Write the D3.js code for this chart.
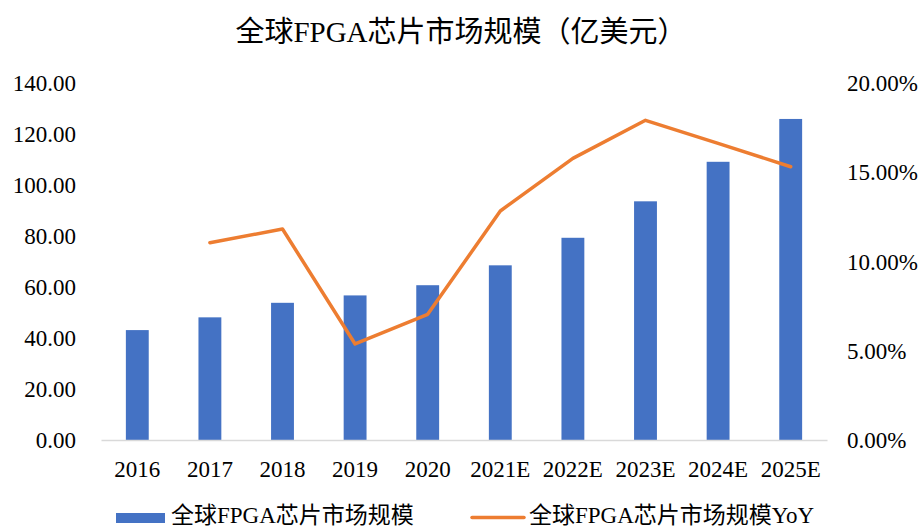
<!DOCTYPE html>
<html>
<head>
<meta charset="utf-8">
<script src="https://cdn.jsdelivr.net/npm/d3@7/dist/d3.min.js"></script>
<style>
  html, body { margin: 0; padding: 0; background: #fff; }
  svg text { font-family: "Liberation Serif", "Times New Roman", "Noto Sans CJK SC", serif; fill: #000; }
</style>
</head>
<body>
<svg id="chart" width="921" height="529"></svg>
<script>
const title = "全球FPGA芯片市场规模（亿美元）";
const categories = ["2016", "2017", "2018", "2019", "2020", "2021E", "2022E", "2023E", "2024E", "2025E"];
const marketSize = [43.1, 48.1, 53.8, 56.7, 60.7, 68.5, 79.3, 93.6, 109.1, 125.9];
const yoy = [null, 11.05, 11.82, 5.38, 7.04, 12.83, 15.78, 17.91, 16.62, 15.31];
const leftTicks = [0, 20, 40, 60, 80, 100, 120, 140];
const rightTicks = [0, 5, 10, 15, 20];
const seriesNames = ["全球FPGA芯片市场规模", "全球FPGA芯片市场规模YoY"];

const svg = d3.select("#chart");
const margin = { left: 101, right: 827, top: 83, bottom: 440 };

const x = d3.scaleBand().domain(categories).range([margin.left, margin.right]).paddingInner(0.685).paddingOuter(0.3425);
const yL = d3.scaleLinear().domain([0, 140]).range([margin.bottom, margin.top]);
const yR = d3.scaleLinear().domain([0, 20]).range([margin.bottom, margin.top]);

// title
svg.append("text").attr("x", 461).attr("y", 42).attr("text-anchor", "middle")
  .style("font-size", "29px").text(title);

// bars
svg.append("g").selectAll("rect").data(categories).join("rect")
  .attr("x", d => x(d)).attr("width", x.bandwidth())
  .attr("y", (d, i) => yL(marketSize[i]))
  .attr("height", (d, i) => yL(0) - yL(marketSize[i]))
  .attr("fill", "#4472C4");

// baseline axis
const xAxis = d3.axisBottom(x).tickSize(0).tickPadding(0);
const gx = svg.append("g").attr("transform", `translate(0,${margin.bottom})`).call(xAxis)
  .attr("font-family", null).attr("font-size", null);
gx.select(".domain").attr("stroke", "#d9d9d9").attr("stroke-width", 1.5);
gx.selectAll("text").attr("dy", null).attr("y", 37).style("font-size", "23px");

// left axis
const gl = svg.append("g").attr("transform", `translate(76,0)`)
  .call(d3.axisLeft(yL).tickValues(leftTicks).tickSize(0).tickPadding(0).tickFormat(d3.format(".2f")))
  .attr("font-family", null).attr("font-size", null);
gl.select(".domain").remove();
gl.selectAll("text").attr("dy", "0.33em").attr("x", 0).style("font-size", "23px");

// right axis
const gr = svg.append("g").attr("transform", `translate(847,0)`)
  .call(d3.axisRight(yR).tickValues(rightTicks).tickSize(0).tickPadding(0).tickFormat(d => d3.format(".2f")(d) + "%"))
  .attr("font-family", null).attr("font-size", null);
gr.select(".domain").remove();
gr.selectAll("text").attr("dy", "0.33em").attr("x", 0).style("font-size", "23px");

// line
const lineData = categories.map((c, i) => ({ c, v: yoy[i] })).filter(d => d.v != null);
const line = d3.line().x(d => x(d.c) + x.bandwidth() / 2).y(d => yR(d.v));
svg.append("path").datum(lineData).attr("d", line)
  .attr("fill", "none").attr("stroke", "#ED7D31").attr("stroke-width", 3.5)
  .attr("stroke-linejoin", "round").attr("stroke-linecap", "round");

// legend
const lg = svg.append("g");
lg.append("rect").attr("x", 116).attr("y", 513).attr("width", 49).attr("height", 10).attr("fill", "#4472C4");
lg.append("text").attr("x", 171).attr("y", 523).style("font-size", "23px").text(seriesNames[0]);
lg.append("line").attr("x1", 472).attr("x2", 524).attr("y1", 517.5).attr("y2", 517.5)
  .attr("stroke", "#ED7D31").attr("stroke-width", 3.5).attr("stroke-linecap", "round");
lg.append("text").attr("x", 529).attr("y", 523).style("font-size", "23px").text(seriesNames[1]);
</script>
</body>
</html>
